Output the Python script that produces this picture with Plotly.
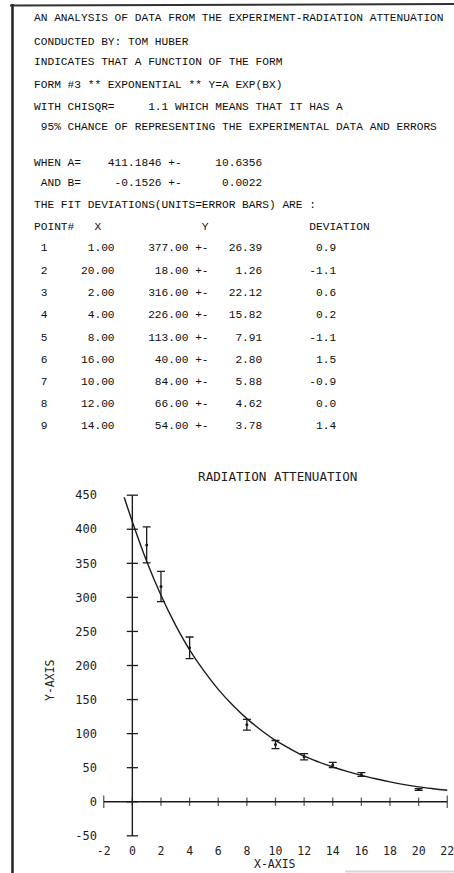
"""
Radiation attenuation fit report (printout) recreated with Plotly.
"""
import plotly.graph_objects as go

# ---- data ------------------------------------------------------------------
point_ids = [1, 2, 3, 4, 5, 6, 7, 8, 9]
x_vals = [1.0, 20.0, 2.0, 4.0, 8.0, 16.0, 10.0, 12.0, 14.0]
y_vals = [377.0, 18.0, 316.0, 226.0, 113.0, 40.0, 84.0, 66.0, 54.0]
y_errs = [26.39, 1.26, 22.12, 15.82, 7.91, 2.80, 5.88, 4.62, 3.78]
deviations = [0.9, -1.1, 0.6, 0.2, -1.1, 1.5, -0.9, 0.0, 1.4]

fit_a, fit_a_err = 411.1846, 10.6356
fit_b, fit_b_err = -0.1526, 0.0022
chisqr = 1.1
chance_pct = 95

# fitted curve as drawn on the plot
curve_x = [-0.57, 0, 1, 2, 3, 4, 5, 6, 7, 8, 9, 10, 11,
           12, 13, 14, 15, 16, 17, 18, 19, 20, 21, 22]
curve_y = [447, 411, 353, 303, 260, 223, 192, 165, 142, 122, 105, 90, 78,
           67, 58.5, 51, 44.5, 38.8, 33.8, 29.2, 25.2, 21.8, 19.2, 17]

x_ticks = [-2, 0, 2, 4, 6, 8, 10, 12, 14, 16, 18, 20, 22]
y_ticks = [-50, 0, 50, 100, 150, 200, 250, 300, 350, 400, 450]

# ---- report text -----------------------------------------------------------
report_lines = [
    "AN ANALYSIS OF DATA FROM THE EXPERIMENT-RADIATION ATTENUATION",
    "CONDUCTED BY: TOM HUBER",
    "INDICATES THAT A FUNCTION OF THE FORM",
    "FORM #3 ** EXPONENTIAL ** Y=A EXP(BX)",
    f"WITH CHISQR={chisqr:8.1f} WHICH MEANS THAT IT HAS A",
    f" {chance_pct}% CHANCE OF REPRESENTING THE EXPERIMENTAL DATA AND ERRORS",
    f"WHEN A={fit_a:12.4f} +-{fit_a_err:12.4f}",
    f" AND B={fit_b:12.4f} +-{fit_b_err:12.4f}",
    "THE FIT DEVIATIONS(UNITS=ERROR BARS) ARE :",
    "POINT#   X" + " " * 15 + "Y" + " " * 15 + "DEVIATION",
]
for n, xv, yv, ev, dv in zip(point_ids, x_vals, y_vals, y_errs, deviations):
    report_lines.append(f"{n:>2d}{xv:10.2f}{yv:11.2f} +-{ev:8.2f}{dv:11.1f}")

# vertical pixel centre of every printed line
line_y_px = [18, 42, 62.5, 85, 107, 127, 163, 183.5, 205, 227,
             248.5, 271, 293, 315, 337.5, 360, 382, 404, 426]

# ---- geometry --------------------------------------------------------------
W, H = 454, 873
PL, PR, PT, PB = 98, 453, 487, 844  # plot area in pixels


def px_x(px):
    return (px - PL) / (PR - PL)


def px_y(py):
    return (PB - py) / (PB - PT)


INK = "#1c1c1c"
PLOT_FONT = "DejaVu Sans Mono"

fig = go.Figure()

# axes drawn through the origin
fig.add_trace(go.Scatter(x=[x_ticks[0], x_ticks[-1]], y=[0, 0], mode="lines",
                         line=dict(color=INK, width=1.4), hoverinfo="skip"))
fig.add_trace(go.Scatter(x=[0, 0], y=[y_ticks[0], y_ticks[-1]], mode="lines",
                         line=dict(color=INK, width=1.4), hoverinfo="skip"))
fig.add_trace(go.Scatter(
    x=x_ticks, y=[0] * len(x_ticks), mode="markers", cliponaxis=False,
    marker=dict(symbol="line-ns",
                size=[9 if v in (x_ticks[0], x_ticks[-1]) else 6 for v in x_ticks],
                line=dict(width=1.3, color=INK)),
    hoverinfo="skip"))
fig.add_trace(go.Scatter(
    x=[0] * len(y_ticks), y=y_ticks, mode="markers", cliponaxis=False,
    marker=dict(symbol="line-ew", size=8, line=dict(width=1.3, color=INK)),
    hoverinfo="skip"))

# fitted curve
fig.add_trace(go.Scatter(x=curve_x, y=curve_y, mode="lines",
                         line=dict(color=INK, width=1.4, shape="spline"),
                         hoverinfo="skip"))

# data with error bars
fig.add_trace(go.Scatter(
    x=x_vals, y=y_vals, mode="markers", cliponaxis=False,
    marker=dict(color=INK, size=3),
    error_y=dict(type="data", array=y_errs, color=INK, thickness=1.3, width=4),
))

annotations = []
for text, py in zip(report_lines, line_y_px):
    annotations.append(dict(
        text=text.replace(" ", "\u00a0"), xref="paper", yref="paper",
        x=px_x(32), y=px_y(py), xanchor="left", yanchor="middle",
        showarrow=False, font=dict(family="Liberation Mono", size=11.2, color="#0d0d0d"),
    ))
annotations.append(dict(text="X-AXIS", xref="paper", yref="paper",
                        x=px_x(274.5), y=px_y(863.5), xanchor="center", yanchor="middle",
                        showarrow=False, font=dict(family=PLOT_FONT, size=11.5, color=INK)))
annotations.append(dict(text="Y-AXIS", xref="paper", yref="paper", textangle=-90,
                        x=px_x(50), y=px_y(680), xanchor="center", yanchor="middle",
                        showarrow=False, font=dict(family=PLOT_FONT, size=11.5, color=INK)))

shapes = [
    # page border of the printout
    dict(type="line", xref="paper", yref="paper", x0=px_x(12.5), x1=px_x(12.5),
         y0=px_y(4), y1=px_y(873), line=dict(color="#222", width=2.5)),
    dict(type="line", xref="paper", yref="paper", x0=px_x(10), x1=px_x(454),
         y0=px_y(5.5), y1=px_y(4), line=dict(color="#333", width=2)),
    dict(type="line", xref="paper", yref="paper", x0=px_x(345), x1=px_x(454),
         y0=px_y(871.5), y1=px_y(871.5), line=dict(color="#d8d8d8", width=2)),
]

fig.update_layout(
    width=W, height=H,
    margin=dict(l=PL, r=W - PR, t=PT, b=H - PB),
    paper_bgcolor="white", plot_bgcolor="white",
    showlegend=False,
    title=dict(text="RADIATION ATTENUATION", x=277.7 / W, y=1 - 476.5 / H,
               xanchor="center", yanchor="middle",
               font=dict(family=PLOT_FONT, size=12.6, color=INK)),
    xaxis=dict(range=[-2.4, 22.4], tickmode="array", tickvals=x_ticks,
               ticktext=[str(v) for v in x_ticks], ticklabeloverflow="allow",
               ticklabelstandoff=-2,
               showgrid=False, zeroline=False, showline=False, ticks="",
               tickfont=dict(family=PLOT_FONT, size=11.5, color=INK)),
    yaxis=dict(range=[-62, 462], tickmode="array", tickvals=y_ticks,
               ticktext=[str(v) for v in y_ticks], ticklabeloverflow="allow",
               showgrid=False, zeroline=False, showline=False, ticks="",
               tickfont=dict(family=PLOT_FONT, size=12, color=INK)),
    annotations=annotations,
    shapes=shapes,
)

# the page body has a default 8px margin; remove it so the figure fills the window
fig.write_html(
    "out.html",
    config={"displayModeBar": False},
    post_script="document.body.style.margin='0';document.body.style.overflow='hidden';",
)
